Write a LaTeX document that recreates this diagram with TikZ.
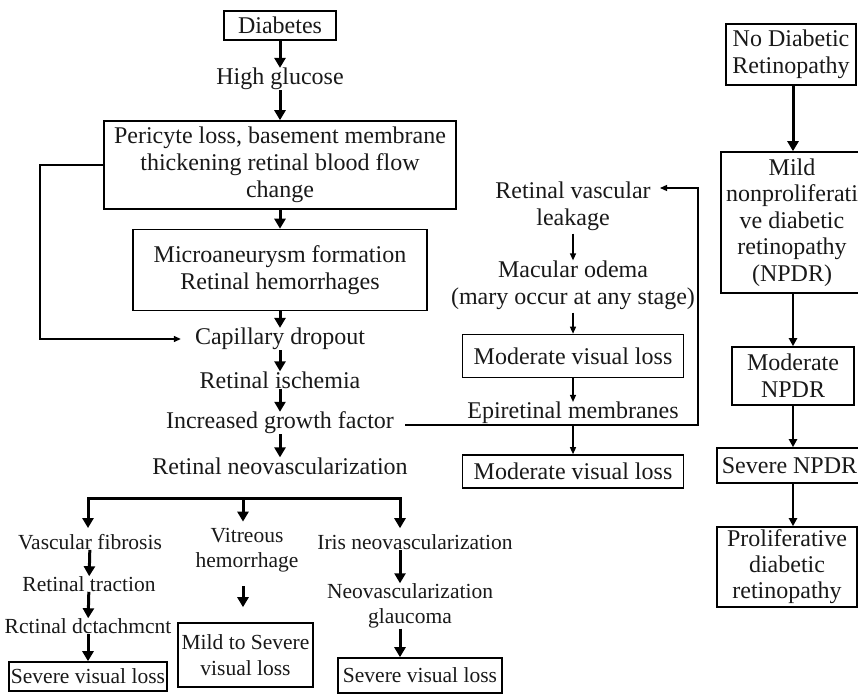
\documentclass[tikz,border=0pt]{standalone}
\usepackage{fontspec}
\setmainfont{Liberation Serif}
\usetikzlibrary{arrows.meta,calc}
\begin{document}
\begin{tikzpicture}[x=1pt,y=-1pt,
  every node/.style={font=\fontsize{24}{27}\selectfont, inner sep=0pt, align=center, text=black!90},
  sm/.style={font=\fontsize{21.5}{25.5}\selectfont},
  bx/.style={draw=black, line width=1.6pt},
  thk/.style={line width=3pt, -{Triangle[width=11pt,length=10pt]}},
  thkline/.style={line width=3pt, line join=miter},
  thn/.style={line width=1.3pt, -{Triangle[width=6pt,length=7pt]}},
  med/.style={line width=2pt, -{Triangle[width=8pt,length=8pt]}},
]
\clip (0,0) rectangle (858,695);
\useasboundingbox (0,0) rectangle (858,695);
\fill[white] (0,0) rectangle (858,695);

% main column
\node[bx, minimum width=112pt, minimum height=29pt] (diab) at (280,25.5) {Diabetes};
\node (hg) at (280,79) {High glucose};
\node[bx, minimum width=352pt, minimum height=88pt] (peri) at (280,165) {Pericyte loss, basement membrane\\thickening retinal blood flow\\change};
\node[bx, minimum width=294pt, minimum height=81pt] (micro) at (280,270) {Microaneurysm formation\\Retinal hemorrhages};
\node (cap) at (280,339) {Capillary dropout};
\node (isch) at (280,380) {Retinal ischemia};
\node (igf) at (280,423) {Increased growth factor};
\node (rnv) at (280,466) {Retinal neovascularization};

\draw[thk] (diab) -- (hg);
\draw[thk] (hg) -- (peri);
\draw[thk] (peri) -- (micro);
\draw[thk] (micro) -- (cap);
\draw[thk] (cap) -- (isch);
\draw[thk] (isch) -- (igf);
\draw[thk] (igf) -- (rnv);

\coordinate (lft) at (40,0);
\draw[thn, shorten >=14pt] (peri.west) -- (lft |- peri.west) |- (cap.west);

% middle column
\node (rvl) at (573,206) {Retinal vascular\\leakage};
\node (mo) at (573,285) {Macular odema\\(mary occur at any stage)};
\node[bx, minimum width=221pt, minimum height=43pt] (mvl1) at (573,356) {Moderate visual loss};
\node (epi) at (573,413) {Epiretinal membranes};
\node[bx, minimum width=221pt, minimum height=33pt] (mvl2) at (573,471.5) {Moderate visual loss};

\draw[thn, shorten <=3pt] (rvl) -- (mo);
\draw[thn, shorten <=3pt] (mo) -- (mvl1);
\draw[thn] (mvl1) -- (epi);
\draw[thn] (epi) -- (mvl2);

\coordinate (lpc) at (698,188);
\coordinate (lph) at (660,188);
\coordinate (lps) at (405,425);
\draw[thn] (lps) -| (lpc) -- (lph);

% branches
\coordinate (bL) at (88,498);
\coordinate (bM) at (243,498);
\coordinate (bR) at (400,498);

\node[sm] (vf) at (90,542) {Vascular fibrosis};
\node[sm] (rt) at (89,584) {Retinal traction};
\node[sm] (rd) at (88,626) {Rctinal dctachmcnt};
\node[bx, sm, minimum width=158pt, minimum height=29pt] (svl1) at (88,676.5) {Severe visual loss};

\node[sm] (vh) at (247,550) {Vitreous\\hemorrhage};
\node[bx, sm, minimum width=135pt, minimum height=64pt] (ms) at (245.5,655) {Mild to Severe\\visual loss};

\node[sm] (iris) at (415,542) {Iris neovascularization};
\node[sm] (neo) at (410,606) {Neovascularization\\glaucoma};
\node[bx, sm, minimum width=164pt, minimum height=35pt] (svl2) at (420,675.5) {Severe visual loss};

\draw[thk, shorten >=6pt] (bR) -- (bL) -- (bL |- vf.north);
\draw[thkline] (bL) -- (bR);
\draw[thk, shorten >=6pt] (bL) -- (bR) -- (bR |- iris.north);
\draw[thk, shorten >=6pt] (bM) -- (bM |- vh.north);

\draw[thk] (vf) -- (rt);
\draw[thk] (rt) -- (rd);
\draw[thk] (rd) -- (rd |- svl1.north);
\draw[thk, shorten <=14pt, shorten >=15pt] (bM |- vh.south) -- (bM |- ms.north);
\draw[thk] (bR |- iris.south) -- (bR |- neo.north);
\draw[thk] (bR |- neo.south) -- (bR |- svl2.north);

% right column
\node[bx, minimum width=130pt, minimum height=61pt] (nodr) at (791,54.5) {No Diabetic\\Retinopathy};
\node[bx, minimum width=142pt, minimum height=141pt, font=\fontsize{24}{26.5}\selectfont] (mild) at (792,222.5) {Mild\\nonproliferati\\ve diabetic\\retinopathy\\(NPDR)};
\node[bx, minimum width=122pt, minimum height=58pt] (mod) at (793,376) {Moderate\\NPDR};
\node[bx, minimum width=150pt, minimum height=35pt] (sev) at (792,465.5) {\hspace*{-5pt}Severe NPDR};
\node[bx, minimum width=140pt, minimum height=80pt, font=\fontsize{24}{26}\selectfont] (pro) at (787,567) {Proliferative\\diabetic\\retinopathy};

\coordinate (rc) at (793,0);
\draw[thk] (rc |- nodr.south) -- (rc |- mild.north);
\draw[med] (rc |- mild.south) -- (rc |- mod.north);
\draw[med] (rc |- mod.south) -- (rc |- sev.north);
\draw[med] (rc |- sev.south) -- (rc |- pro.north);
\end{tikzpicture}
\end{document}
